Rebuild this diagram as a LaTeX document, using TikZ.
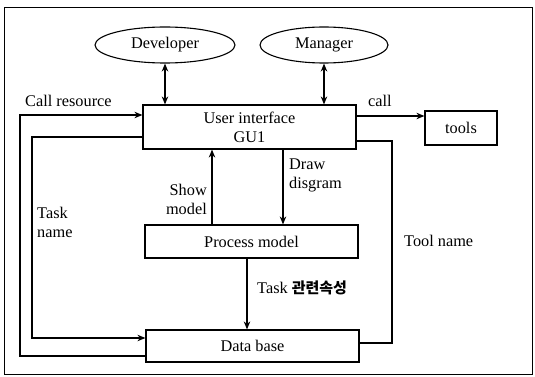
\documentclass[tikz,border=0pt]{standalone}
\usepackage{fontspec}
\setmainfont{Liberation Serif}
\newfontfamily\krfont{Noto Sans CJK KR}
\usetikzlibrary{arrows.meta,shapes.geometric}
\tikzset{
  box/.style={draw, line width=1.2pt, inner sep=0pt, minimum width=213pt},
  oval/.style={draw, ellipse, line width=1.1pt, inner sep=0pt},
  lbl/.style={inner sep=0pt, font=\fontsize{16.3}{19}\selectfont},
  conn/.style={line width=1.2pt},
  arr/.style={conn, -{Stealth[length=8pt,width=6.5pt]}},
  arrboth/.style={conn, {Stealth[length=8pt,width=6.5pt]}-{Stealth[length=8pt,width=6.5pt]}},
}
\begin{document}
\begin{tikzpicture}[x=1pt,y=-1pt, font=\fontsize{16.3}{19}\selectfont]
\useasboundingbox (0,0) rectangle (535,377);
\draw[line width=1pt] (4,8) rectangle (532,374);

\node[oval, minimum width=140pt, minimum height=36pt] (dev) at (165,45) {Developer};
\node[oval, minimum width=128pt, minimum height=36pt] (man) at (324,45) {Manager};

\node[box, minimum height=44pt, align=center] (ui) at (249.5,127)
  {\fontsize{16.3}{22}\selectfont User interface\\GU1};
\node[box, minimum width=72pt, minimum height=34pt] (tools) at (461,128) {tools};
\node[box, minimum height=33pt] (pm) at (251.5,241.5) {Process model};
\node[box, minimum height=32pt] (db) at (252.5,346) {Data base};

% labels
\node[lbl, anchor=west] (lcr) at (25,101) {Call resource};
\node[lbl] (lcall) at (380,101) {call};
\node[lbl, anchor=west, align=left] (ltn) at (37,222) {\fontsize{16.3}{21}\selectfont Task\\name};
\node[lbl, anchor=west] (ltool) at (404,241) {Tool name};
\node[lbl, anchor=east, align=right] (lshow) at (207,199) {\fontsize{16.3}{22}\selectfont Show\\model};
\node[lbl, anchor=west, align=left] (ldraw) at (289,175) {\fontsize{16.3}{22}\selectfont Draw\\disgram};
\node[lbl, anchor=west] (ltask) at (257,288) {Task {\krfont\bfseries\fontsize{15}{18}\selectfont 관련속성}};

% connectors
\draw[arrboth] (dev.south) -- (dev.south |- ui.north);
\draw[arrboth] (man.south) -- (man.south |- ui.north);
\draw[arr] (ui.east |- 0,116) -- (tools.west |- 0,116);
\draw[arr] (db.west |- 0,356) -- (20,356) -- (20,115) -- (ui.west |- 0,115);
\draw[arr] (ui.west |- 0,137) -- (32,137) -- (32,338) -- (db.west |- 0,338);
\draw[conn] (ui.east |- 0,141) -- (392,141) -- (392,343) -- (db.east |- 0,343);
\draw[arr] (pm.north -| 212,0) -- (ui.south -| 212,0);
\draw[arr] (ui.south -| 283,0) -- (pm.north -| 283,0);
\draw[arr] (pm.south -| 247,0) -- (db.north -| 247,0);
\end{tikzpicture}
\end{document}
